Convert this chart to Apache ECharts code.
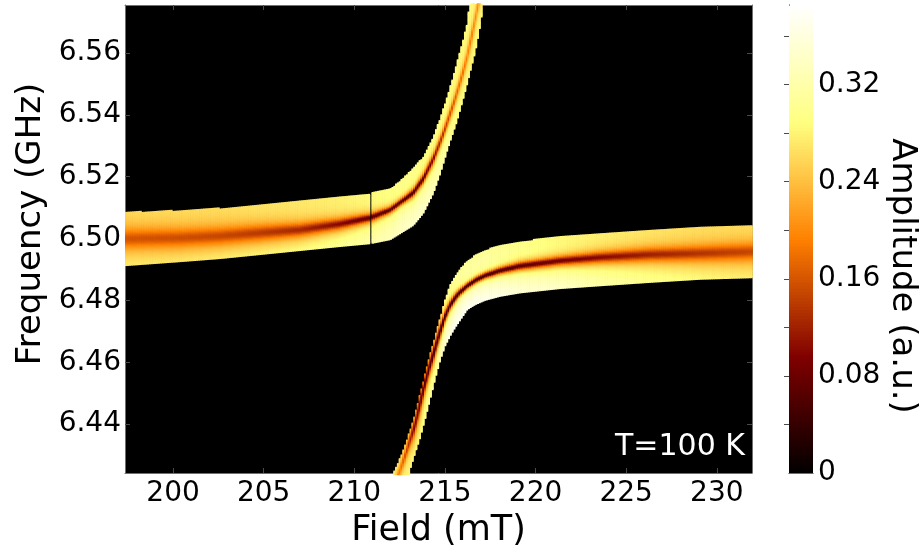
<!DOCTYPE html>
<html>
<head>
<meta charset="utf-8">
<script src="https://cdn.jsdelivr.net/npm/echarts@6/dist/echarts.min.js"></script>
<style>
  html, body { margin: 0; padding: 0; background: #fff; }
  #chart { width: 922px; height: 554px; }
</style>
</head>
<body>
<div id="chart"></div>
<script>
// ---- axis ranges and ticks ----
const FIELD_MIN = 197.35, FIELD_MAX = 231.94;      // mT
const FREQ_MIN = 6.4242, FREQ_MAX = 6.5755;        // GHz
const AMP_MAX = 0.3856;                            // a.u.
const fieldTicks = [200, 205, 210, 215, 220, 225, 230];
const freqTicks = [6.44, 6.46, 6.48, 6.50, 6.52, 6.54, 6.56];
const ampLabels = [0, 0.08, 0.16, 0.24, 0.32];
const ampTicks = [0.04, 0.08, 0.12, 0.16, 0.20, 0.24, 0.28, 0.32, 0.36];

// ---- upper hybrid branch, per field column ----
// band limits (top/bottom), resonance centre, dip depth/width, edge amplitudes
const upperField  = [197.35, 200.39, 202.59, 204.80, 207.00, 209.21, 210.87, 211.97, 212.69, 213.24, 213.79, 214.34, 214.73, 215.11, 215.44, 215.66, 216.00, 216.22, 216.44, 216.66, 216.88, 217.10];
const upperTop    = [6.5086, 6.5092, 6.5099, 6.5108, 6.5121, 6.5134, 6.5147, 6.5160, 6.5196, 6.5228, 6.5264, 6.5328, 6.5389, 6.5458, 6.5522, 6.5570, 6.5642, 6.5697, 6.5800, 6.5800, 6.5800, 6.5800];
const upperCenter = [6.5002, 6.5005, 6.5011, 6.5021, 6.5031, 6.5050, 6.5070, 6.5095, 6.5126, 6.5150, 6.5194, 6.5257, 6.5312, 6.5374, 6.5432, 6.5471, 6.5540, 6.5587, 6.5647, 6.5707, 6.5771, 6.5820];
const upperBottom = [6.4914, 6.4927, 6.4937, 6.4950, 6.4963, 6.4976, 6.4985, 6.4998, 6.5024, 6.5044, 6.5083, 6.5147, 6.5212, 6.5286, 6.5345, 6.5383, 6.5455, 6.5503, 6.5555, 6.5606, 6.5673, 6.5755];
const upperDipMin = [0.16, 0.155, 0.15, 0.14, 0.125, 0.10, 0.07, 0.055, 0.05, 0.05, 0.06, 0.09, 0.12, 0.14, 0.16, 0.17, 0.18, 0.19, 0.19, 0.20, 0.20, 0.20];
const upperDipWidth = [0.0034, 0.0032, 0.0030, 0.0027, 0.0022, 0.0017, 0.0012, 0.0009, 0.0009, 0.0011, 0.0013, 0.0015, 0.0016, 0.0016, 0.0017, 0.0017, 0.0019, 0.0020, 0.0023, 0.0023, 0.0023, 0.0023];
const upperEdgeTop    = [0.275, 0.275, 0.275, 0.28, 0.28, 0.285, 0.29, 0.295, 0.30, 0.30, 0.30, 0.30, 0.30, 0.295, 0.29, 0.29, 0.29, 0.29, 0.29, 0.29, 0.29, 0.29];
const upperEdgeBottom = [0.29, 0.29, 0.295, 0.30, 0.305, 0.315, 0.325, 0.335, 0.345, 0.35, 0.35, 0.34, 0.33, 0.32, 0.31, 0.30, 0.295, 0.29, 0.29, 0.29, 0.29, 0.29];

// ---- lower hybrid branch, per field column ----
const lowerField  = [212.10, 212.52, 212.80, 213.07, 213.35, 213.62, 213.90, 214.18, 214.45, 214.73, 215.00, 215.28, 215.55, 215.83, 216.22, 216.66, 217.21, 218.04, 219.14, 221.35, 223.55, 226.31, 229.07, 231.94];
const lowerTop    = [6.4236, 6.4292, 6.4333, 6.4382, 6.4435, 6.4498, 6.4562, 6.4627, 6.4683, 6.4743, 6.4804, 6.4849, 6.4880, 6.4903, 6.4928, 6.4947, 6.4963, 6.4979, 6.4991, 6.5008, 6.5017, 6.5027, 6.5037, 6.5042];
const lowerCenter = [6.4185, 6.4252, 6.4300, 6.4349, 6.4400, 6.4465, 6.4534, 6.4593, 6.4646, 6.4700, 6.4749, 6.4786, 6.4810, 6.4829, 6.4849, 6.4867, 6.4883, 6.4899, 6.4914, 6.4931, 6.4942, 6.4951, 6.4955, 6.4960];
const lowerBottom = [6.4150, 6.4150, 6.4150, 6.4256, 6.4310, 6.4358, 6.4420, 6.4484, 6.4549, 6.4609, 6.4655, 6.4687, 6.4714, 6.4738, 6.4772, 6.4788, 6.4802, 6.4815, 6.4826, 6.4840, 6.4849, 6.4860, 6.4870, 6.4875];
const lowerDipMin = [0.20, 0.19, 0.16, 0.12, 0.09, 0.07, 0.06, 0.05, 0.045, 0.04, 0.035, 0.035, 0.035, 0.035, 0.035, 0.035, 0.04, 0.05, 0.065, 0.085, 0.10, 0.12, 0.135, 0.15];
const lowerDipWidth = [0.0021, 0.0021, 0.0021, 0.0021, 0.0027, 0.0028, 0.0025, 0.0023, 0.0023, 0.0021, 0.0016, 0.0013, 0.0012, 0.0010, 0.0009, 0.0009, 0.0009, 0.0010, 0.0012, 0.0014, 0.0017, 0.0021, 0.0025, 0.0029];
const lowerEdgeTop    = [0.29, 0.29, 0.29, 0.29, 0.29, 0.29, 0.30, 0.30, 0.30, 0.31, 0.31, 0.31, 0.31, 0.31, 0.31, 0.31, 0.31, 0.305, 0.30, 0.29, 0.285, 0.28, 0.275, 0.275];
const lowerEdgeBottom = [0.29, 0.29, 0.29, 0.29, 0.30, 0.30, 0.31, 0.32, 0.33, 0.35, 0.36, 0.375, 0.38, 0.38, 0.38, 0.38, 0.375, 0.37, 0.36, 0.35, 0.33, 0.31, 0.30, 0.29];

// field columns with no recorded trace
const blankFields = [210.87];

// ---- grid sampling of the map ----
const FIELD_STEP = 0.1;
const FREQ_STEP = 0.0004;

function interp(xs, ys, x) {
  if (x <= xs[0]) return ys[0];
  for (let i = 1; i < xs.length; i++) {
    if (x <= xs[i]) {
      const t = (x - xs[i - 1]) / (xs[i] - xs[i - 1]);
      return ys[i - 1] + t * (ys[i] - ys[i - 1]);
    }
  }
  return ys[ys.length - 1];
}

function buildBranch(b, out) {
  const f0 = b.field[0], f1 = b.field[b.field.length - 1];
  const nCols = Math.round((FIELD_MAX - FIELD_MIN) / FIELD_STEP);
  for (let k = 0; k < nCols; k++) {
    const lo = FIELD_MIN + k * FIELD_STEP, hi = lo + FIELD_STEP;
    const f = lo + FIELD_STEP / 2;
    if (f < f0 || f > f1) continue;
    if (blankFields.some(v => v >= lo && v < hi)) continue;
    const top = interp(b.field, b.top, f);
    const bottom = interp(b.field, b.bottom, f);
    const center = interp(b.field, b.center, f);
    const dipMin = interp(b.field, b.dipMin, f);
    const w = interp(b.field, b.dipWidth, f);
    const eT = interp(b.field, b.edgeTop, f);
    const eB = interp(b.field, b.edgeBottom, f);
    const start = Math.max(bottom, FREQ_MIN - FREQ_STEP);
    const end = Math.min(top, FREQ_MAX + FREQ_STEP);
    for (let q = start + FREQ_STEP / 2; q < end; q += FREQ_STEP) {
      const s = (q - bottom) / (top - bottom);
      const base = eB + (eT - eB) * s;
      const d = q - center;
      let amp = base - (base - dipMin) * (w * w) / (w * w + d * d);
      amp = Math.max(0, Math.min(AMP_MAX, amp));
      out.push([f, q, amp]);
    }
  }
}

const mapCells = [];
buildBranch({ field: upperField, top: upperTop, bottom: upperBottom, center: upperCenter,
  dipMin: upperDipMin, dipWidth: upperDipWidth, edgeTop: upperEdgeTop, edgeBottom: upperEdgeBottom }, mapCells);
buildBranch({ field: lowerField, top: lowerTop, bottom: lowerBottom, center: lowerCenter,
  dipMin: lowerDipMin, dipWidth: lowerDipWidth, edgeTop: lowerEdgeTop, edgeBottom: lowerEdgeBottom }, mapCells);

// colour-bar strips
const BAR_STEP = 0.0025;
const barCells = [];
for (let v = BAR_STEP / 2; v < AMP_MAX; v += BAR_STEP) barCells.push([0.5, v, v]);

const FONT = 'DejaVu Sans';
const tickStyle = { show: true, inside: true, length: 5, lineStyle: { color: '#4a4a4a', width: 1 } };
const lineStyle = { show: true, lineStyle: { color: '#707070', width: 1 } };

const chart = echarts.init(document.getElementById('chart'), null, { renderer: 'canvas' });
chart.setOption({
  animation: false,
  backgroundColor: '#fff',
  textStyle: { fontFamily: FONT },
  grid: [
    { left: 125, top: 5, width: 627, height: 468, show: true, backgroundColor: '#000', borderWidth: 0, outerBoundsMode: 'none' },
    { left: 789, top: 5, width: 24, height: 468, show: false, outerBoundsMode: 'none' }
  ],
  visualMap: {
    type: 'continuous', show: false, min: 0, max: AMP_MAX, dimension: 2, seriesIndex: [0, 1],
    inRange: { color: ['#000000', '#800000', '#ff8000', '#ffff80', '#ffffff'] }
  },
  xAxis: [
    { type: 'value', gridIndex: 0, min: FIELD_MIN, max: FIELD_MAX, position: 'bottom',
      axisLine: lineStyle, splitLine: { show: false },
      axisTick: Object.assign({ customValues: fieldTicks }, tickStyle),
      axisLabel: { customValues: fieldTicks, fontSize: 28, color: '#000', margin: 7, fontFamily: FONT },
      name: 'Field (mT)', nameLocation: 'middle', nameGap: 40, nameMoveOverlap: false,
      nameTextStyle: { fontSize: 35, color: '#000', fontFamily: FONT } },
    { type: 'value', gridIndex: 0, min: FIELD_MIN, max: FIELD_MAX, position: 'top',
      axisLine: lineStyle, splitLine: { show: false },
      axisTick: Object.assign({ customValues: fieldTicks }, tickStyle),
      axisLabel: { show: false } },
    { type: 'value', gridIndex: 1, min: 0, max: 1, position: 'bottom',
      axisLine: lineStyle, splitLine: { show: false }, axisTick: { show: false }, axisLabel: { show: false } },
    { type: 'value', gridIndex: 1, min: 0, max: 1, position: 'top',
      axisLine: lineStyle, splitLine: { show: false }, axisTick: { show: false }, axisLabel: { show: false } }
  ],
  yAxis: [
    { type: 'value', gridIndex: 0, min: FREQ_MIN, max: FREQ_MAX, position: 'left',
      axisLine: lineStyle, splitLine: { show: false },
      axisTick: Object.assign({ customValues: freqTicks }, tickStyle),
      axisLabel: { customValues: freqTicks, fontSize: 28, color: '#000', margin: 4, fontFamily: FONT,
        formatter: v => v.toFixed(2) },
      name: 'Frequency (GHz)', nameLocation: 'middle', nameGap: 77, nameMoveOverlap: false,
      nameTextStyle: { fontSize: 34, color: '#000', fontFamily: FONT, padding: [0, 0, 0, 30] } },
    { type: 'value', gridIndex: 0, min: FREQ_MIN, max: FREQ_MAX, position: 'right',
      axisLine: lineStyle, splitLine: { show: false },
      axisTick: Object.assign({ customValues: freqTicks }, tickStyle),
      axisLabel: { show: false } },
    { type: 'value', gridIndex: 1, min: 0, max: AMP_MAX, position: 'right',
      axisLine: lineStyle, splitLine: { show: false },
      axisTick: Object.assign({ customValues: ampTicks }, tickStyle),
      axisLabel: { customValues: ampLabels, fontSize: 28, color: '#000', margin: 5, fontFamily: FONT,
        formatter: v => (v === 0 ? '0' : v.toFixed(2)) },
      name: 'Amplitude (a.u.)', nameLocation: 'middle', nameGap: 72, nameRotate: -90, nameMoveOverlap: false,
      nameTextStyle: { fontSize: 34, color: '#000', fontFamily: FONT, padding: [0, 0, 0, 74] } },
    { type: 'value', gridIndex: 1, min: 0, max: AMP_MAX, position: 'left',
      axisLine: lineStyle, splitLine: { show: false }, axisTick: { show: false }, axisLabel: { show: false } }
  ],
  series: [
    {
      type: 'custom', name: 'amplitude', xAxisIndex: 0, yAxisIndex: 0, clip: true, silent: true, z: 2,
      data: mapCells,
      renderItem: function (params, api) {
        const x = api.value(0), y = api.value(1);
        const p0 = api.coord([x - FIELD_STEP / 2, y + FREQ_STEP / 2]);
        const p1 = api.coord([x + FIELD_STEP / 2, y - FREQ_STEP / 2]);
        return {
          type: 'rect',
          shape: { x: p0[0], y: p0[1], width: p1[0] - p0[0] + 0.5, height: p1[1] - p0[1] + 1 },
          style: { fill: api.visual('color') }
        };
      }
    },
    {
      type: 'custom', name: 'colorbar', xAxisIndex: 2, yAxisIndex: 2, clip: true, silent: true, z: 2,
      data: barCells,
      renderItem: function (params, api) {
        const v = api.value(1);
        const p0 = api.coord([0, v + BAR_STEP / 2]);
        const p1 = api.coord([1, v - BAR_STEP / 2]);
        return {
          type: 'rect',
          shape: { x: p0[0], y: p0[1], width: p1[0] - p0[0], height: p1[1] - p0[1] + 1 },
          style: { fill: api.visual('color') }
        };
      }
    }
  ],
  graphic: [
    { type: 'text', left: 615, top: 432, z: 10, silent: true,
      style: { text: 'T=100 K', fill: '#fff', fontSize: 30, fontFamily: FONT } }
  ]
});
</script>
</body>
</html>
